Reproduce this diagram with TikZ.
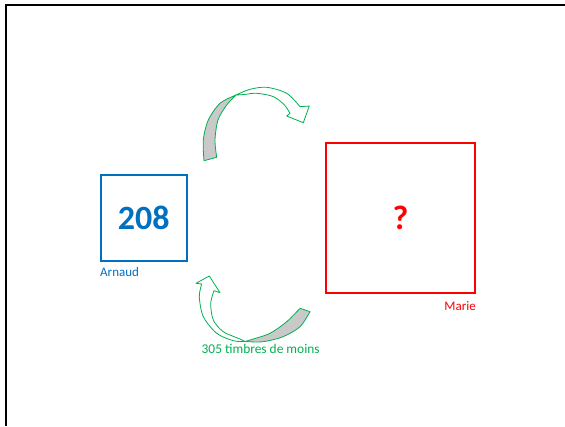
\documentclass[tikz,border=0pt]{standalone}
\usepackage{fontspec}
\setmainfont{Carlito}
\definecolor{pblue}{HTML}{0070C0}
\definecolor{pred}{HTML}{FF0000}
\definecolor{pgreen}{HTML}{00B050}
\definecolor{pgray}{HTML}{C9C9C9}
\tikzset{
  personbox/.style={draw, line width=1.8pt, inner sep=0pt, font=\bfseries\fontsize{34}{36}\selectfont},
  namelabel/.style={inner sep=0pt, font=\fontsize{13}{15}\selectfont},
  backside/.style={fill=pgray, draw=pgreen, line width=0.8pt, line join=round},
  frontside/.style={fill=white, draw=pgreen, line width=0.8pt, line join=round},
}
\begin{document}
\begin{tikzpicture}[x=1pt,y=-1pt]
\useasboundingbox (0,0) rectangle (565,426);
% page frame
\draw[line width=2pt] (6,426) -- (6,4.5) -- (565,4.5);

% the two people
\node[personbox, draw=pblue, text=pblue, minimum width=86pt, minimum height=86pt] (arnaud) at (143.8,218) {208};
\node[personbox, draw=pred, text=pred, minimum width=149.5pt, minimum height=150pt] (marie) at (400.5,218.2) {?};
\node[namelabel, text=pblue, anchor=base west] (arnaudlbl) at (100,276) {Arnaud};
\node[namelabel, text=pred, anchor=base east] (marielbl) at (476,310) {Marie};
\node[namelabel, text=pgreen, anchor=base west, font=\fontsize{13.4}{15}\selectfont] (difflbl) at (201.5,353.3) {305 timbres de moins};

% upper curved arrow: shaded back side
\path[backside] (204,160.7)
  -- plot[smooth] coordinates {(204,160.7) (203.3,140) (208.3,120) (220,103.3) (236,95)}
  -- plot[smooth] coordinates {(236,95) (226.7,105) (218,120) (215,140) (216.7,157.3)}
  -- cycle;
% upper curved arrow: front band with head
\path[frontside] (236,95)
  -- plot[smooth] coordinates {(236,95) (250,89.3) (266.7,87.3) (286.7,93.3) (300,106.7)}
  -- (309.3,106) -- (303.3,122.7) -- (286.7,116) -- (290,113.3)
  -- plot[smooth] coordinates {(290,113.3) (284,104.5) (273,96.5) (256.7,93.3) (244,94.5) (236,95)}
  -- cycle;

% lower curved arrow: front band with head
\path[frontside] (201.7,284)
  -- plot[smooth] coordinates {(201.7,284) (199.3,296.7) (203.3,316.7) (216.7,333.3) (233.3,340.7) (245,341.5)}
  -- plot[smooth] coordinates {(245,341.5) (240,339) (223.3,331.7) (213.3,320) (210.7,303.3) (214,290.7)}
  -- (220,292.7) -- (209.3,276) -- (196,283.3)
  -- cycle;
% lower curved arrow: shaded back side
\path[backside] (245,341.5)
  -- plot[smooth] coordinates {(245,341.5) (263,341.7) (283,336.7) (300,326.7) (310,311.7)}
  -- (300,308.3)
  -- plot[smooth] coordinates {(300,308.3) (286.7,321.7) (270,333.3) (250,340) (245,341.5)}
  -- cycle;
\end{tikzpicture}
\end{document}
